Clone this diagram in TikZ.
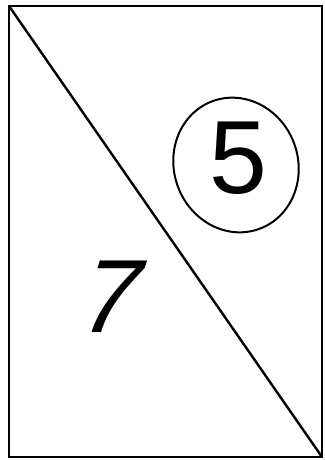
\documentclass[tikz,border=0pt]{standalone}
\usepackage{fontspec}
\setsansfont{Liberation Sans}
\begin{document}
\begin{tikzpicture}[x=1pt,y=-1pt,line width=2.4pt,
  digit/.style={font=\sffamily\fontsize{104}{104}\selectfont, inner sep=0pt}]
  \useasboundingbox (0,0) rectangle (324,460);
  \coordinate (tl) at (9,6);
  \coordinate (br) at (322,457);
  \draw (tl) rectangle (br);
  \draw (tl) -- (br);
  \node[digit] (five) at (238,158) {5};
  \draw[line width=2pt, rotate around={20:(236,165)}] (236,165) ellipse [x radius=62, y radius=68];
  \node[digit, xslant=0.3] (seven) at (113,297) {7};
\end{tikzpicture}
\end{document}
